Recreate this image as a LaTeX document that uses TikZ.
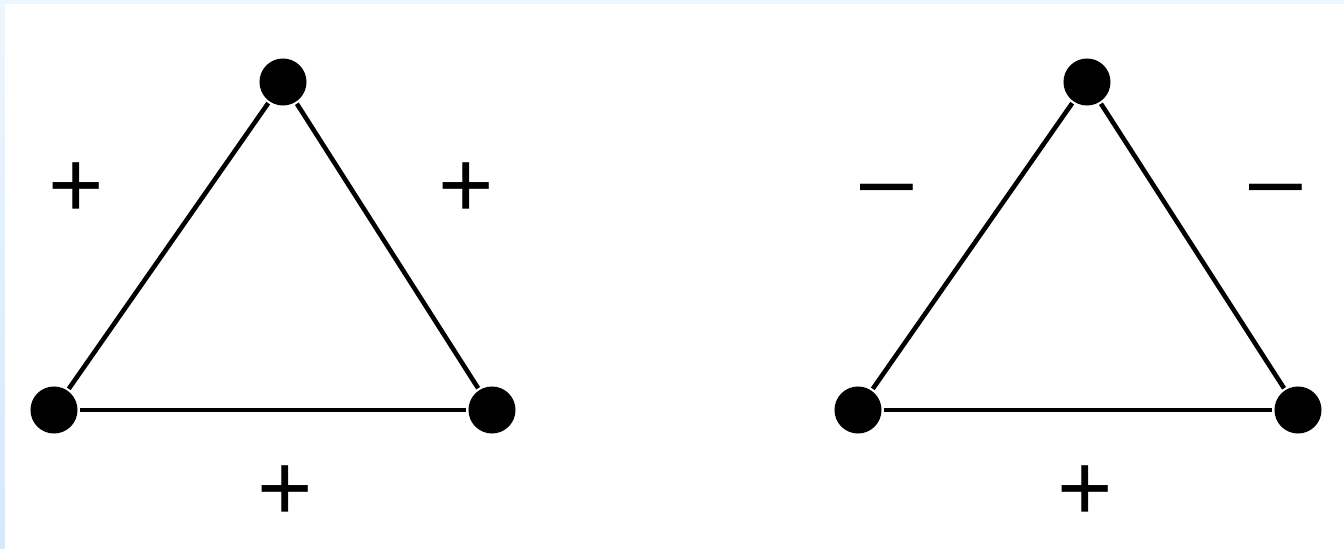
\documentclass[tikz,border=0pt]{standalone}
\usepackage{fontspec}
\setmainfont{Liberation Sans}
\definecolor{edgeblue}{RGB}{214,232,250}
\definecolor{edgelight}{RGB}{238,246,253}
\begin{document}
\begin{tikzpicture}[x=0.01cm, y=-0.01cm,
  vert/.style={circle, fill=black, inner sep=0pt, minimum size=0.47cm},
  sgn/.style={inner sep=0pt, font=\fontsize{27}{30}\selectfont},
  every path/.style={line width=1.3pt}]
\useasboundingbox (0,0) rectangle (1344,549);
\shade[top color=edgelight, bottom color=edgeblue, draw=none] (0,0) rectangle (1344,549);
\fill[white] (5,4) rectangle (1344,549);

\node[vert] (a1) at (283,82) {};
\node[vert] (a2) at (54,410) {};
\node[vert] (a3) at (492,410) {};

\draw (a1)--(a2);
\draw (a1)--(a3);
\draw (a2)--(a3);

\node[sgn] (la) at (76,190) {+};
\node[sgn] (ra) at (466,190) {+};
\node[sgn] (ba) at (285,493) {+};

\node[vert] (b1) at (1087,82) {};
\node[vert] (b2) at (858,410) {};
\node[vert] (b3) at (1298,410) {};

\draw (b1)--(b2);
\draw (b1)--(b3);
\draw (b2)--(b3);

\node[sgn] (lb) at (887,198) {–};
\node[sgn] (rb) at (1276,198) {–};
\node[sgn] (bb) at (1085,493) {+};
\end{tikzpicture}
\end{document}
